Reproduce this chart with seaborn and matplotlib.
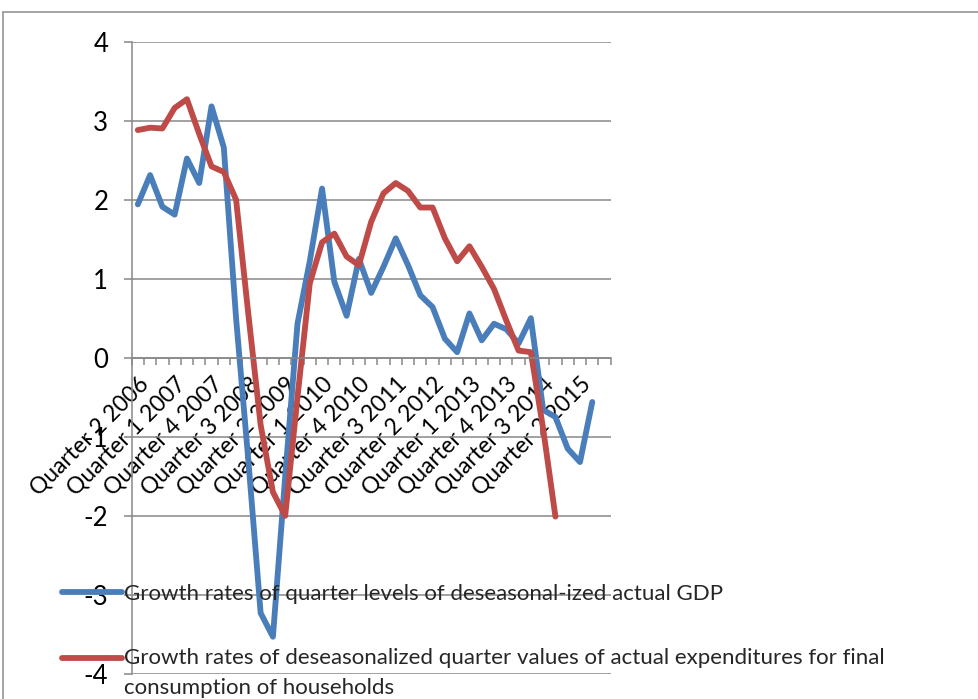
import numpy as np
import pandas as pd
import matplotlib
matplotlib.use("Agg")
import matplotlib.pyplot as plt
import seaborn as sns
from matplotlib.lines import Line2D

# Quarterly categories, Q2 2006 through Q4 2015
years = [2006, 2007, 2008, 2009, 2010, 2011, 2012, 2013, 2014, 2015]
categories = [f"Quarter {q} {y}" for y in years for q in (1, 2, 3, 4)][1:]

# Labelled categories on the axis (every third quarter)
tick_labels = [
    "Quarter 2 2006", "Quarter 1 2007", "Quarter 4 2007", "Quarter 3 2008",
    "Quarter 2 2009", "Quarter 1 2010", "Quarter 4 2010", "Quarter 3 2011",
    "Quarter 2 2012", "Quarter 1 2013", "Quarter 4 2013", "Quarter 3 2014",
    "Quarter 2 2015",
]

gdp_label = "Growth rates of quarter levels of deseasonal-ized actual GDP"
cons_label = ("Growth rates of deseasonalized quarter values of actual expenditures for final\n"
              "consumption of households")

# GDP growth, Q2 2006 .. Q3 2015
gdp_growth = [1.94, 2.31, 1.91, 1.81, 2.52, 2.21, 3.18, 2.66, 0.50, -1.30,
              -3.23, -3.53, -1.50, 0.43, 1.22, 2.14, 0.96, 0.53, 1.25, 0.82,
              1.15, 1.51, 1.17, 0.79, 0.64, 0.24, 0.07, 0.56, 0.22, 0.43,
              0.36, 0.18, 0.50, -0.66, -0.75, -1.15, -1.32, -0.56]

# Household final consumption growth, Q2 2006 .. Q4 2014
consumption_growth = [2.88, 2.91, 2.90, 3.16, 3.27, 2.83, 2.42, 2.35, 2.00, 0.55,
                      -0.85, -1.70, -2.00, -0.50, 0.94, 1.46, 1.57, 1.28, 1.17, 1.72,
                      2.08, 2.21, 2.11, 1.90, 1.90, 1.51, 1.22, 1.41, 1.15, 0.87,
                      0.47, 0.09, 0.07, -0.90, -2.01]

BLUE = "#4A7EBB"
RED = "#BE4B48"
GRID = "#888888"

df = pd.concat([
    pd.DataFrame({"pos": np.arange(len(gdp_growth)), "value": gdp_growth,
                  "series": gdp_label}),
    pd.DataFrame({"pos": np.arange(len(consumption_growth)), "value": consumption_growth,
                  "series": cons_label}),
], ignore_index=True)

sns.set_theme(style="white")
plt.rcParams["font.family"] = ["Lato", "DejaVu Sans"]
plt.rcParams["axes.unicode_minus"] = False

fig = plt.figure(figsize=(9.79, 6.99), dpi=100)
ax = fig.add_axes([0.1345, 0.0359, 0.4893, 0.9047])

sns.lineplot(data=df, x="pos", y="value", hue="series",
             palette=[BLUE, RED], linewidth=4.2, sort=False, ax=ax)
for ln in ax.lines:
    ln.set_solid_joinstyle("round")
    ln.set_solid_capstyle("round")

ax.set_xlim(-0.5, len(categories) - 0.5)
ax.set_ylim(-4, 4)
ax.set_xlabel("")
ax.set_ylabel("")

# horizontal gridlines
ax.set_yticks(range(-4, 5))
ax.yaxis.grid(True, color=GRID, linewidth=1.1)
ax.xaxis.grid(False)
ax.set_axisbelow(True)

for side in ("top", "right"):
    ax.spines[side].set_visible(False)
ax.spines["left"].set_color(GRID)
ax.spines["left"].set_linewidth(1.1)
ax.spines["bottom"].set_position(("data", 0))
ax.spines["bottom"].set_color(GRID)
ax.spines["bottom"].set_linewidth(1.1)

# category labels at every third quarter, tick marks between categories
ax.set_xticks(range(0, len(categories), 3))
ax.set_xticklabels(tick_labels, rotation=45, ha="right", va="top",
                   rotation_mode="anchor", fontsize=16.5)
ax.set_xticks(np.arange(-0.5, len(categories), 1), minor=True)
ax.tick_params(axis="x", which="major", length=0, pad=11, colors="black")
ax.tick_params(axis="x", which="minor", length=5, width=1.1, color=GRID,
               direction="out", bottom=True)
ax.tick_params(axis="y", length=5.8, width=1.1, color=GRID, pad=11,
               labelsize=18.5, labelcolor="black", left=True)

handles, labels = ax.get_legend_handles_labels()
leg = ax.legend(handles, labels, loc="upper left",
                bbox_to_anchor=(62 / 979, 1 - 584 / 699),
                bbox_transform=fig.transFigure, frameon=False,
                fontsize=16, handlelength=2.7, handletextpad=0.1,
                borderpad=0, borderaxespad=0, labelspacing=2.0)
for t in leg.get_texts():
    t.set_linespacing(1.6)
# keep the second handle level with the first line of its wrapped label
leg_lines = leg.get_lines()
y0 = np.asarray(leg_lines[1].get_ydata(), dtype=float)
leg_lines[1].set_ydata(y0 + 11.2)

# chart frame
fig.add_artist(Line2D([3 / 979, 1], [1 - 12 / 699, 1 - 12 / 699],
                      transform=fig.transFigure, color="#8c8c8c", linewidth=1.1))
fig.add_artist(Line2D([3 / 979, 3 / 979], [0, 1 - 12 / 699],
                      transform=fig.transFigure, color="#8c8c8c", linewidth=1.1))

fig.savefig("out.png", dpi=100)
